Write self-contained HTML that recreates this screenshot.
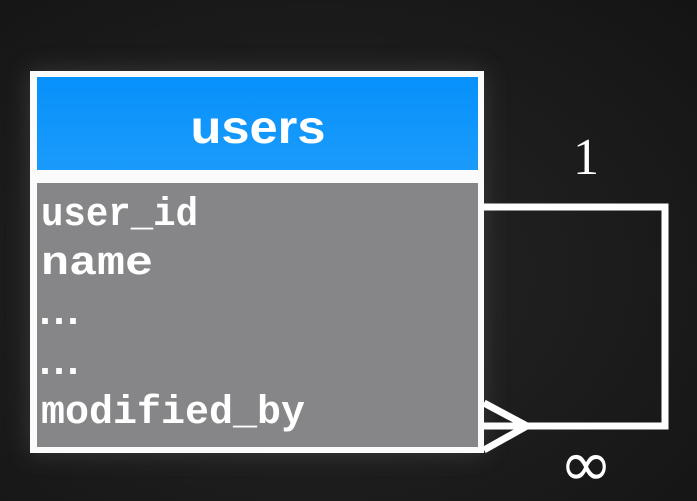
<!DOCTYPE html>
<html><head><style>
html,body{margin:0;padding:0}
body{width:697px;height:501px;overflow:hidden;background:radial-gradient(ellipse at 45% 55%,#262626 0%,#1c1c1c 55%,#141414 100%);position:relative;font-family:"Liberation Mono",monospace}
svg{position:absolute;left:0;top:0}
</style></head><body>
<svg width="697" height="501" viewBox="0 0 697 501">
<defs><filter id="g" x="-20%" y="-20%" width="140%" height="140%"><feGaussianBlur stdDeviation="12"/></filter></defs>
<rect x="30" y="71" width="454" height="382" fill="#555" opacity="0.5" filter="url(#g)"/>
<rect x="30" y="71" width="454" height="382" fill="#fbfbfb"/>
<defs><linearGradient id="b" x1="0" y1="0" x2="0" y2="1"><stop offset="0" stop-color="#0791fb"/><stop offset="1" stop-color="#1a9bfb"/></linearGradient></defs>
<rect x="37" y="77" width="441" height="93" fill="url(#b)"/>
<rect x="37" y="183" width="441" height="264" fill="#868587"/>
<text x="258" y="143" text-anchor="middle" font-family="Liberation Sans,sans-serif" font-weight="bold" font-size="46" textLength="135" lengthAdjust="spacingAndGlyphs" fill="#fff">users</text>
<g font-family="Liberation Mono,monospace" font-weight="bold" font-size="40" fill="#fff">
<text x="41" y="225" textLength="157" lengthAdjust="spacingAndGlyphs">user_id</text>
<text x="41" y="274" textLength="112" lengthAdjust="spacingAndGlyphs">name</text>
<text x="33" y="324" letter-spacing="-10">...</text>
<text x="33" y="374" letter-spacing="-10">...</text>
<text x="41" y="423" textLength="264" lengthAdjust="spacingAndGlyphs">modified_by</text>
</g>
<g fill="none" stroke="#fff" stroke-width="7">
<polyline points="484,207 665,207 665,426 484,426"/>
<polyline points="484,403 527,426 484,450"/>
</g>
<text x="586" y="174" text-anchor="middle" font-family="Liberation Serif,serif" font-size="52" fill="#fff">1</text>
<text x="586" y="486" text-anchor="middle" font-family="DejaVu Sans,sans-serif" font-size="64" fill="#fff">∞</text>
</svg>
</body></html>
